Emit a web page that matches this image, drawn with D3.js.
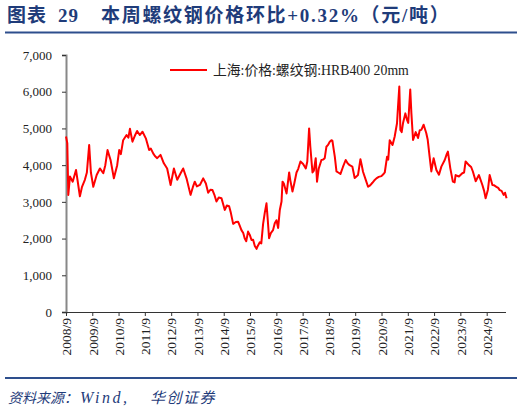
<!DOCTYPE html>
<html><head><meta charset="utf-8">
<script src="https://cdn.jsdelivr.net/npm/d3@7"></script>
<style>
html,body{margin:0;padding:0;background:#fff;}
svg{display:block;}
</style></head>
<body>
<svg id="c" width="524" height="413"></svg>
<script>
const titleLabel = ["图表", "29"];
const titleText = "本周螺纹钢价格环比+0.32%（元/吨）";
const seriesName = "上海:价格:螺纹钢:HRB400 20mm";
const sourceParts = ["资料来源：", "Wind,", "华创证券"];
const yTicks = [0,1000,2000,3000,4000,5000,6000,7000];
const xTickLabels = ["2008/9","2009/9","2010/9","2011/9","2012/9","2013/9","2014/9","2015/9","2016/9","2017/9","2018/9","2019/9","2020/9","2021/9","2022/9","2023/9","2024/9"];
const dates = ["2008-09-01","2008-09-19","2008-10-03","2008-10-26","2008-12-03","2009-01-18","2009-02-15","2009-03-13","2009-04-10","2009-05-21","2009-06-18","2009-07-20","2009-08-13","2009-09-15","2009-11-01","2009-12-16","2010-02-01","2010-03-01","2010-04-01","2010-05-13","2010-06-28","2010-08-13","2010-09-10","2010-10-03","2010-11-04","2010-12-21","2011-01-16","2011-02-06","2011-03-13","2011-04-15","2011-05-17","2011-06-23","2011-07-31","2011-09-15","2011-10-31","2011-11-24","2011-12-26","2012-01-19","2012-02-20","2012-04-06","2012-05-22","2012-07-07","2012-08-24","2012-10-09","2012-11-24","2013-01-10","2013-02-15","2013-04-02","2013-05-28","2013-06-29","2013-07-26","2013-08-24","2013-10-05","2013-11-20","2013-12-27","2014-01-28","2014-02-28","2014-03-29","2014-04-23","2014-05-23","2014-06-24","2014-08-01","2014-09-16","2014-10-14","2014-11-15","2014-12-09","2015-01-10","2015-02-16","2015-03-19","2015-04-11","2015-05-05","2015-05-30","2015-06-20","2015-07-11","2015-08-05","2015-08-29","2015-09-22","2015-10-14","2015-11-07","2015-12-01","2015-12-18","2016-01-15","2016-02-05","2016-03-01","2016-03-24","2016-04-17","2016-05-05","2016-05-23","2016-06-16","2016-07-17","2016-08-10","2016-09-03","2016-09-26","2016-10-19","2016-11-12","2016-11-26","2016-12-14","2017-01-21","2017-02-26","2017-03-13","2017-04-13","2017-05-08","2017-06-08","2017-07-02","2017-08-02","2017-09-08","2017-10-15","2017-11-05","2017-11-30","2017-12-17","2018-01-16","2018-02-04","2018-03-02","2018-03-20","2018-04-12","2018-05-20","2018-06-11","2018-07-05","2018-07-28","2018-08-20","2018-09-13","2018-10-06","2018-10-20","2018-11-08","2018-11-22","2018-12-15","2019-01-09","2019-02-09","2019-03-15","2019-04-22","2019-05-19","2019-06-16","2019-07-24","2019-08-25","2019-09-22","2019-10-10","2019-11-13","2019-12-01","2019-12-19","2020-01-26","2020-02-27","2020-03-27","2020-04-27","2020-05-22","2020-06-22","2020-07-24","2020-08-31","2020-09-25","2020-10-16","2020-11-17","2020-12-03","2020-12-24","2021-02-01","2021-03-03","2021-04-04","2021-04-18","2021-05-06","2021-05-21","2021-06-08","2021-06-26","2021-07-29","2021-08-21","2021-09-07","2021-10-05","2021-10-21","2021-11-13","2021-12-20","2022-01-21","2022-02-14","2022-03-08","2022-04-09","2022-05-16","2022-06-04","2022-07-01","2022-07-25","2022-08-26","2022-10-03","2022-11-08","2022-12-11","2023-01-27","2023-02-24","2023-03-12","2023-04-14","2023-05-20","2023-06-13","2023-06-27","2023-08-12","2023-09-28","2023-10-23","2023-11-13","2023-12-29","2024-01-29","2024-02-23","2024-04-01","2024-05-16","2024-07-03","2024-07-27","2024-08-17","2024-09-18","2024-10-12","2024-11-19","2024-12-14","2025-01-14","2025-02-08","2025-03-01","2025-03-27","2025-04-24","2025-05-14","2025-06-04"];
const values = [4780,4600,3190,3690,3550,3870,3500,3150,3400,3600,3800,4550,3800,3410,3730,3910,3780,4000,4410,4140,3640,4000,4410,4300,4680,4820,4750,4990,4640,4800,4930,4820,4910,4730,4410,4450,4320,4250,4190,4280,4050,3910,3460,3910,3600,3780,3910,3640,3190,3400,3550,3420,3460,3640,3500,3250,3330,3320,3200,3010,3120,3100,2780,2900,2880,2700,2400,2450,2460,2350,2230,2150,2000,1930,2190,2100,1960,1970,1800,1720,1800,1900,1870,2400,2700,2960,2500,2010,2150,2230,2420,2500,2290,2780,3010,3550,3500,3230,3800,3600,3280,3500,3800,3900,4100,4030,3910,4100,5000,4500,3800,3850,4190,3550,3900,4140,4150,4190,4500,4550,4640,4680,4660,4410,4230,3830,3800,3760,3950,4140,4050,4000,3960,3650,3700,3730,4160,4000,3820,3600,3410,3450,3520,3580,3640,3680,3700,3750,3800,4230,4150,4680,4550,4780,5140,5590,6140,4960,4900,5140,5410,5230,5150,6060,5410,4685,4900,4740,4950,4960,5100,4870,4700,4230,3830,4190,3870,3740,3960,4140,4300,4370,3920,3550,3530,3730,3690,3780,3800,4100,4000,3950,3820,3560,3730,3460,3300,3100,3330,3730,3460,3450,3410,3380,3320,3300,3190,3250,3100];

const svg = d3.select("#c");
const blue = "#1f3c7a";
const serif = "'Liberation Serif','Times New Roman','Noto Sans CJK SC',serif";

// Title
const titleX = [7, 58];
titleLabel.forEach((t,i)=>{
  svg.append("text").attr("x",titleX[i]).attr("y",22).attr("fill",blue)
    .attr("font-family",serif).attr("font-weight","bold").attr("font-size",19).attr("letter-spacing",1)
    .text(t);
});
svg.append("text").attr("x",101).attr("y",22).attr("fill",blue)
  .attr("font-family",serif).attr("font-weight","bold").attr("font-size",19).attr("letter-spacing",1.7)
  .text(titleText);
svg.append("line").attr("x1",5).attr("x2",517).attr("y1",32.5).attr("y2",32.5).attr("stroke","#2e4f8d").attr("stroke-width",2);
svg.append("line").attr("x1",5).attr("x2",517).attr("y1",378).attr("y2",378).attr("stroke","#2e4f8d").attr("stroke-width",2);
const srcX = [8, 80, 150];
const srcSize = [14, 16, 15];
const srcSpacing = [0, 2.5, 1.5];
sourceParts.forEach((t,i)=>{
  svg.append("text").attr("x",srcX[i]).attr("y",403).attr("fill",blue)
    .attr("font-family",serif).attr("font-style","italic").attr("font-size",srcSize[i]).attr("letter-spacing",srcSpacing[i])
    .text(t);
});

const parse = d3.timeParse("%Y-%m-%d");
const data = dates.map((d,i)=>({date:parse(d), value:values[i]}));

const x = d3.scaleTime().domain([new Date(2008,8,1), new Date(2025,5,10)]).range([66,507]);
const y = d3.scaleLinear().domain([0,7000]).range([312,55]);

// Y axis
const gy = svg.append("g").attr("transform","translate(66,0)")
  .call(d3.axisLeft(y).tickValues(yTicks).tickFormat(d3.format(",")).tickSize(4).tickPadding(10));
gy.select(".domain").attr("stroke","#888").attr("stroke-width",2);
gy.selectAll(".tick line").attr("stroke","#333");
gy.selectAll("text").attr("font-family",serif).attr("font-size",13).attr("fill","#222");

// X axis
const xTickDates = xTickLabels.map(s=>{const [yy,mm]=s.split("/"); return new Date(+yy, +mm-1, 1);});
const gx = svg.append("g").attr("transform","translate(0,312)")
  .call(d3.axisBottom(x).tickValues(xTickDates).tickFormat((d,i)=>xTickLabels[i]).tickSize(4).tickSizeOuter(0));
gx.select(".domain").attr("stroke","#333").attr("stroke-width",1).attr("d","M66,0.5H506");
gx.selectAll(".tick line").attr("stroke","#333");
gx.selectAll("text").attr("font-family",serif).attr("font-size",13.5).attr("fill","#222")
  .attr("text-anchor","end").attr("transform","rotate(-90)").attr("x",-6).attr("y",0).attr("dy","0.35em");

// Line
const line = d3.line().x(d=>x(d.date)).y(d=>y(d.value));
svg.append("path").datum(data).attr("d",line).attr("fill","none").attr("stroke","#ff0000").attr("stroke-width",2).attr("stroke-linejoin","round");

// Legend
svg.append("line").attr("x1",170).attr("x2",207).attr("y1",70).attr("y2",70).attr("stroke","#ff0000").attr("stroke-width",2);
svg.append("text").attr("x",213).attr("y",74.5).attr("font-family",serif).attr("font-size",13.8).attr("fill","#222").text(seriesName);
</script>
</body></html>
